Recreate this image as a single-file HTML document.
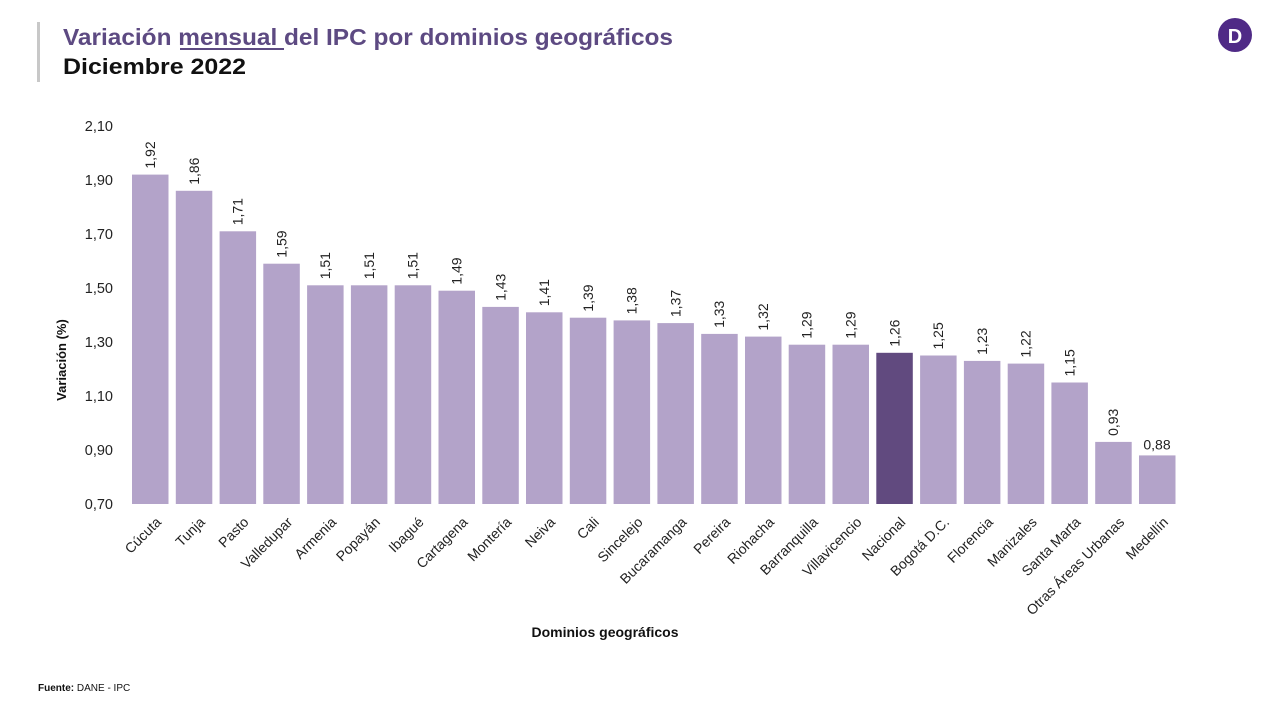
<!DOCTYPE html>
<html><head><meta charset="utf-8"><style>
body{margin:0;background:#fff;width:1280px;height:705px;overflow:hidden;font-family:"Liberation Sans",sans-serif}
</style></head><body>
<svg width="1280" height="705" xmlns="http://www.w3.org/2000/svg" font-family="Liberation Sans, sans-serif">
<rect x="37" y="22" width="3" height="60" fill="#c8c8c8"/>
<text x="63" y="45" font-size="23" font-weight="bold" fill="#5d4a82" textLength="610" lengthAdjust="spacingAndGlyphs">Variación mensual del IPC por dominios geográficos</text>
<rect x="180" y="48" width="104" height="2" fill="#5d4a82"/>
<text x="63" y="74" font-size="22" font-weight="bold" fill="#111" textLength="183" lengthAdjust="spacingAndGlyphs">Diciembre 2022</text>
<circle cx="1235" cy="35" r="17" fill="#4f2a86"/>
<text x="1235" y="43" font-size="20" font-weight="bold" fill="#fff" text-anchor="middle">D</text>
<g font-size="14.5" fill="#222" text-anchor="end">
<text x="113" y="131">2,10</text><text x="113" y="185">1,90</text><text x="113" y="239">1,70</text><text x="113" y="293">1,50</text><text x="113" y="347">1,30</text><text x="113" y="401">1,10</text><text x="113" y="455">0,90</text><text x="113" y="509">0,70</text>
</g>
<text transform="translate(66,360) rotate(-90)" font-size="13" font-weight="bold" text-anchor="middle" fill="#111">Variación (%)</text>
<text x="605" y="637" font-size="14" font-weight="bold" text-anchor="middle" fill="#111">Dominios geográficos</text>
<text x="38" y="691" font-size="10" fill="#111"><tspan font-weight="bold">Fuente:</tspan> DANE - IPC</text>
<g id="bars"></g>
</svg>
<script>
var d=[["Cúcuta",1.92],["Tunja",1.86],["Pasto",1.71],["Valledupar",1.59],["Armenia",1.51],["Popayán",1.51],["Ibagué",1.51],["Cartagena",1.49],["Montería",1.43],["Neiva",1.41],["Cali",1.39],["Sincelejo",1.38],["Bucaramanga",1.37],["Pereira",1.33],["Riohacha",1.32],["Barranquilla",1.29],["Villavicencio",1.29],["Nacional",1.26],["Bogotá D.C.",1.25],["Florencia",1.23],["Manizales",1.22],["Santa Marta",1.15],["Otras Áreas Urbanas",0.93],["Medellín",0.88]];
var g=document.getElementById('bars'),s='';
var n=d.length,x0=132,step=(1139-132)/(n-1);
d.forEach(function(a,i){
var x=x0+i*step,y=504-(a[1]-0.7)/0.2*54,cx=x+18;
s+='<rect x="'+x.toFixed(1)+'" y="'+y.toFixed(1)+'" width="36.5" height="'+(504-y).toFixed(1)+'" fill="'+(a[0]=="Nacional"?"#614a7f":"#b3a3c9")+'"/>';
var lbl=a[1].toFixed(2).replace('.',',');
if(a[1]<0.9)s+='<text x="'+cx+'" y="'+(y-6)+'" font-size="14" fill="#222" text-anchor="middle">'+lbl+'</text>';
else s+='<text transform="translate('+(cx+5)+','+(y-6)+') rotate(-90)" font-size="14" fill="#222">'+lbl+'</text>';
s+='<text transform="translate('+(cx+12)+','+523+') rotate(-45)" font-size="14" fill="#222" text-anchor="end">'+a[0]+'</text>';
});
g.innerHTML=s;
</script>
</body></html>
